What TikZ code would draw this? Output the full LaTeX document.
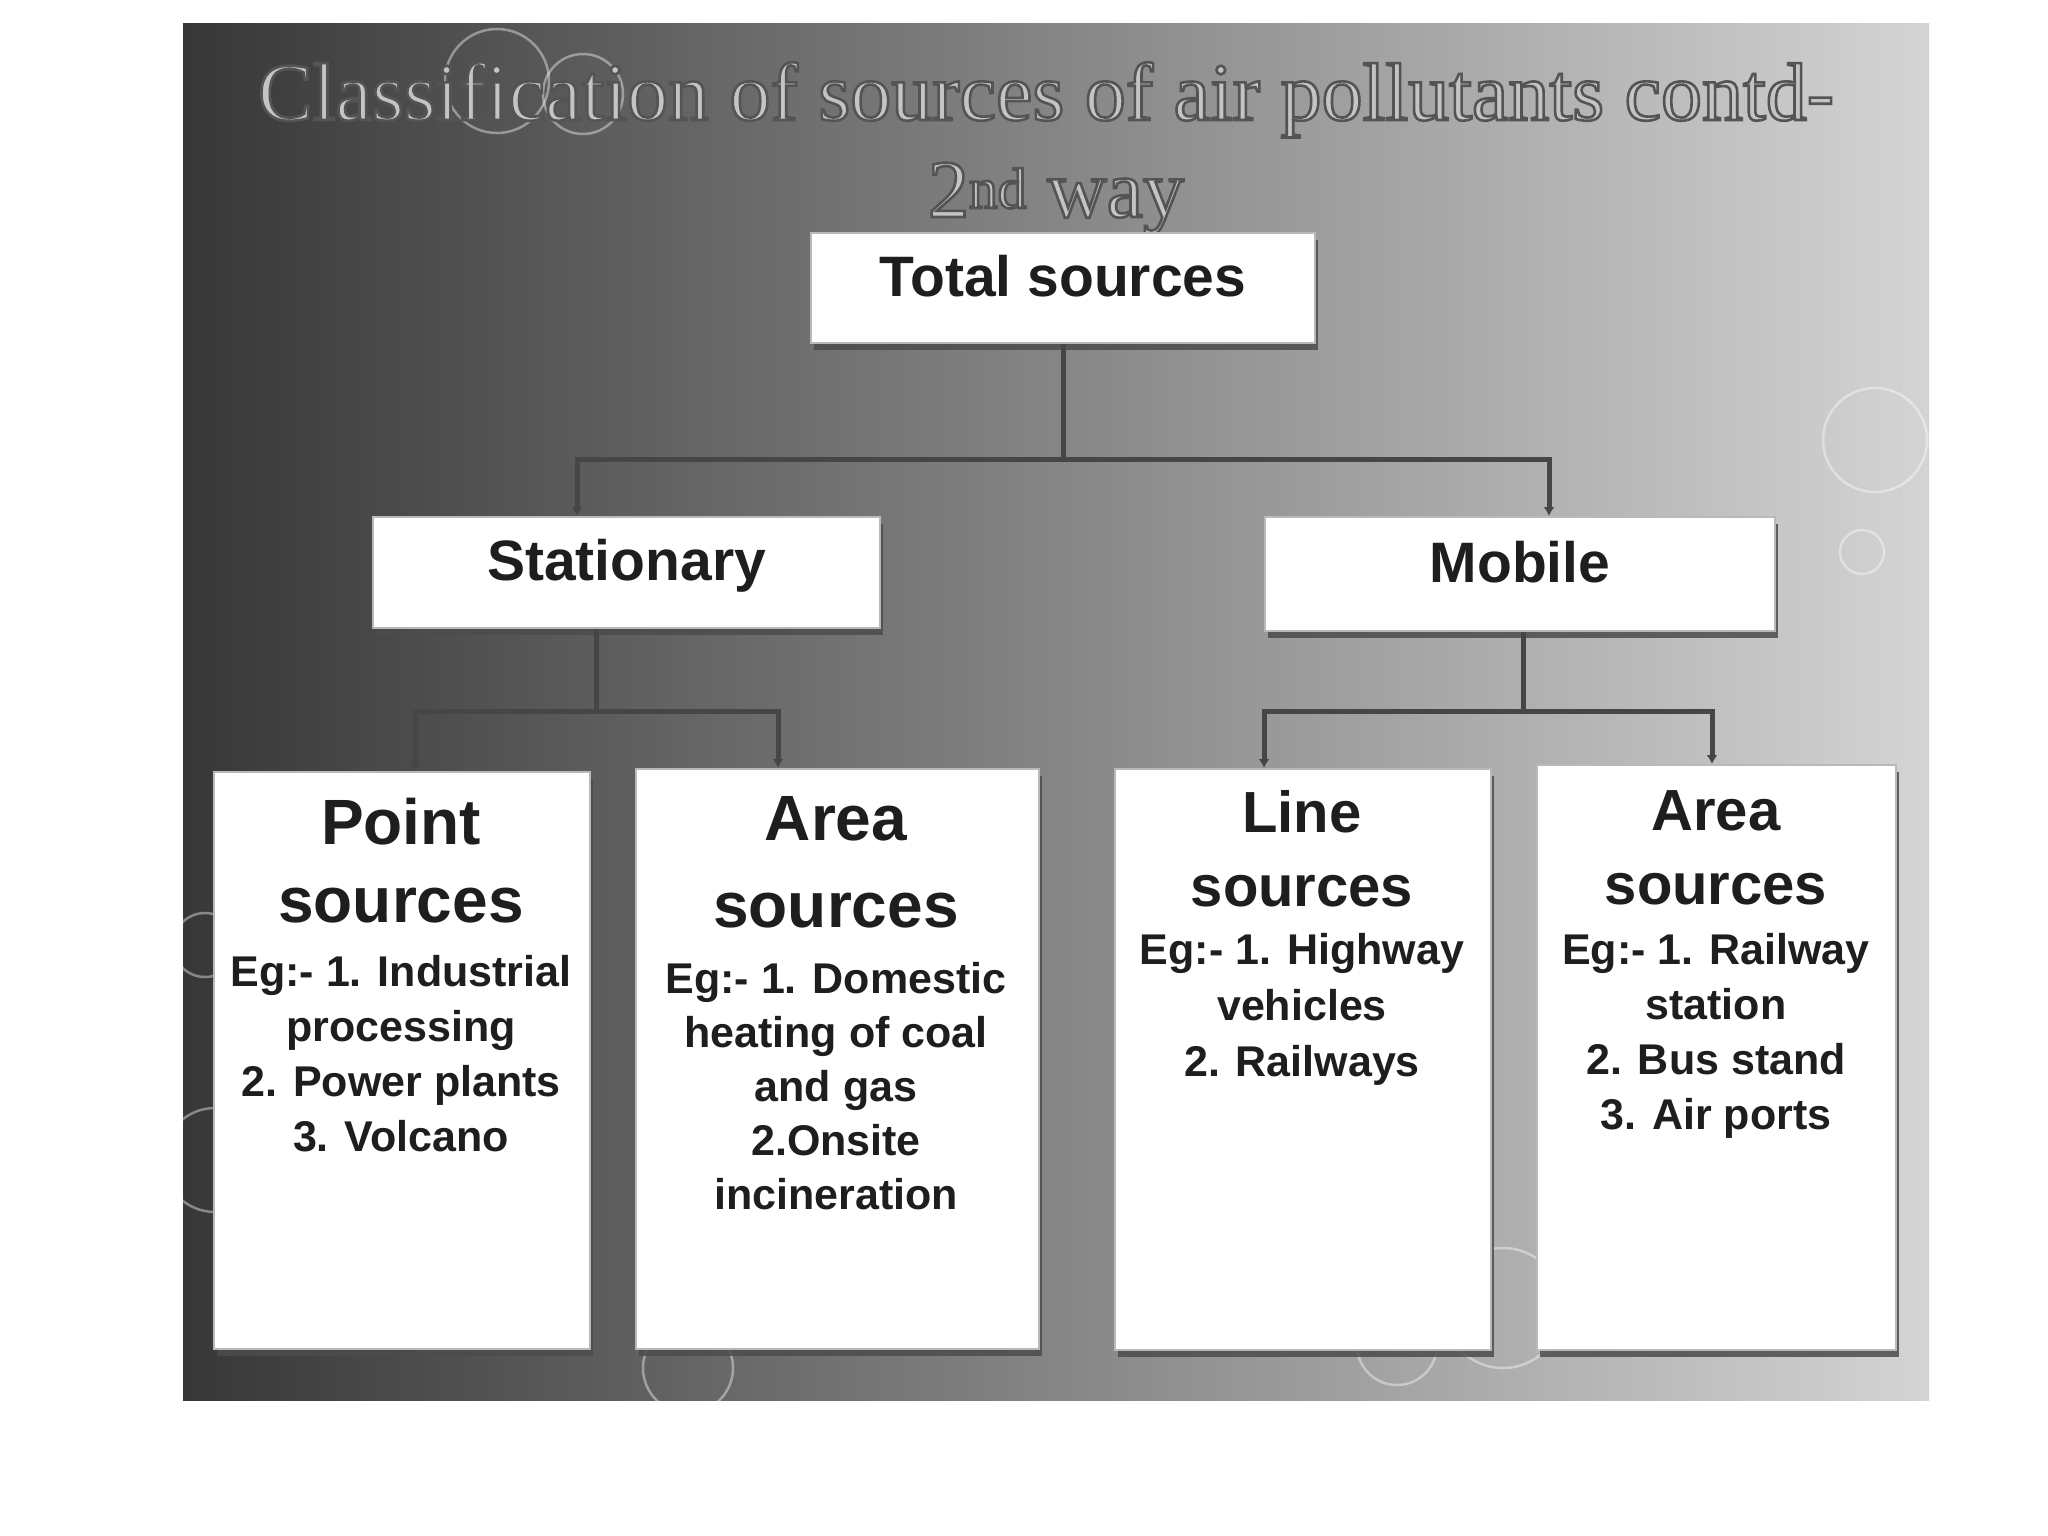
\documentclass[tikz,border=0pt]{standalone}
\usepackage{fontspec}
\setmainfont{Liberation Serif}
\setsansfont{Liberation Sans}
\usetikzlibrary{shadows,arrows.meta,calc}
\definecolor{bgL}{RGB}{55,55,55}
\definecolor{bgM}{RGB}{135,135,135}
\definecolor{bgR}{RGB}{212,212,212}
\definecolor{titlegray}{RGB}{196,196,196}
\definecolor{ink}{RGB}{30,30,30}
\definecolor{connc}{RGB}{70,70,70}
\newcommand\outlinedtext[1]{\special{pdf:literal direct 2 Tr 2.6 w 0.33 G}#1\special{pdf:literal direct 0 Tr}}
\begin{document}
\begin{tikzpicture}[x=1pt,y=-1pt,
  box/.style={draw=gray!55, line width=2pt, fill=white,
    drop shadow={shadow xshift=3pt, shadow yshift=-7pt, fill=black!70, opacity=0.85},
    font=\sffamily\bfseries, text=ink, inner sep=0pt, anchor=north west},
  topfont/.style={font=\sffamily\bfseries\fontsize{57pt}{68pt}\selectfont, text height=42pt, text depth=26pt},
  headbig/.style={font=\sffamily\bfseries\fontsize{64pt}{78pt}\selectfont, text=ink, align=center, anchor=north, inner sep=0pt},
  headsmall/.style={font=\sffamily\bfseries\fontsize{58pt}{74pt}\selectfont, text=ink, align=center, anchor=north, inner sep=0pt},
  egtext/.style={font=\sffamily\bfseries\fontsize{43pt}{55pt}\selectfont, text=ink, align=center, anchor=north, inner sep=0pt},
  conn/.style={draw=connc, line width=5pt},
  tip/.style={-{Latex[length=9pt,width=11pt]}},
  bubble/.style={draw=white, line width=2.5pt, opacity=0.4},
  titletext/.style={font=\fontsize{82pt}{96pt}\selectfont, text=titlegray, anchor=base, inner sep=0pt}
]
\useasboundingbox (0,0) rectangle (2048,1536);
\fill[white] (0,0) rectangle (2048,1536);
% background panel
\shade[left color=bgL, middle color=bgM, right color=bgR] (183,24) rectangle (1929,1400);
% bubbles
\draw[bubble] (497,81) circle (52);
\draw[bubble] (583,94) circle (40);
\draw[bubble] (1875,440) circle (52);
\draw[bubble] (1862,552) circle (22);
\draw[bubble] (205,945) circle (32);
\draw[bubble] (215,1160) circle (52);
\draw[bubble] (688,1368) circle (45);
\draw[bubble] (1397,1345) circle (40);
\draw[bubble] (1503,1308) circle (60);
% title
\node[titletext] (title) at (1046,120) {\outlinedtext{Classification of sources of air pollutants contd-}};
\node[titletext] (title2) at (1056,217) {\outlinedtext{2\textsuperscript{nd} way}};
% boxes
\node[box, topfont, minimum width=504, minimum height=110] (total) at (810,232) {Total sources};
\node[box, topfont, minimum width=507, minimum height=111] (stat) at (372,516) {Stationary};
\node[box, topfont, minimum width=510, minimum height=114] (mob) at (1264,516) {Mobile};
\node[box, minimum width=376, minimum height=577] (point) at (213,771) {};
\node[box, minimum width=403, minimum height=580] (area1) at (635,768) {};
\node[box, minimum width=376, minimum height=581] (line) at (1114,768) {};
\node[box, minimum width=359, minimum height=585] (area2) at (1536,764) {};
% box texts
\node[headbig] (pointh) at (401,798) {Point\\sources};
\node[egtext] (pointe) at (401,955) {Eg:- 1. Industrial\\processing\\2. Power plants\\3. Volcano};
\node[headbig, font=\sffamily\bfseries\fontsize{64pt}{87pt}\selectfont] (area1h) at (836,796) {Area\\sources};
\node[egtext, font=\sffamily\bfseries\fontsize{43pt}{54pt}\selectfont] (area1e) at (836,962) {Eg:- 1. Domestic\\heating of coal\\and gas\\2.Onsite\\incineration};
\node[headsmall] (lineh) at (1302,790) {Line\\sources};
\node[egtext, font=\sffamily\bfseries\fontsize{43pt}{56pt}\selectfont] (linee) at (1302,933) {Eg:- 1. Highway\\vehicles\\2. Railways};
\node[headsmall] (area2h) at (1716,790) {Area\\sources};
\node[egtext] (area2e) at (1716,933) {Eg:- 1. Railway\\station\\2. Bus stand\\3. Air ports};
% connectors
\coordinate (tj) at ($(total.south)+(0,115)$);
\draw[conn] (total.south) -- (tj);
\draw[conn,tip] (tj) -| ($(stat.north west)+(205,0)$);
\draw[conn,tip] (tj) -| ($(mob.north west)+(285,0)$);
\coordinate (sj) at ($(stat.south west)+(224,82)$);
\draw[conn] (sj |- stat.south) -- (sj);
\draw[conn,tip] (sj) -| ($(point.north west)+(202,0)$);
\draw[conn,tip] (sj) -| ($(area1.north west)+(143,0)$);
\coordinate (mj) at ($(mob.south west)+(259,79)$);
\draw[conn] (mj |- mob.south) -- (mj);
\draw[conn,tip] (mj) -| ($(line.north west)+(150,0)$);
\draw[conn,tip] (mj) -| ($(area2.north west)+(176,0)$);
\end{tikzpicture}
\end{document}
